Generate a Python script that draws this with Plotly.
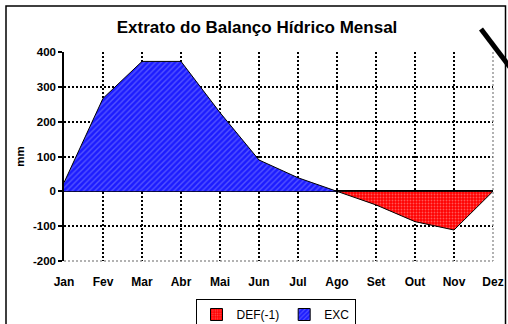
import plotly.graph_objects as go

# Monthly water balance extract (mm)
months = ["Jan", "Fev", "Mar", "Abr", "Mai", "Jun", "Jul", "Ago", "Set", "Out", "Nov", "Dez"]
exc = [25, 267, 373, 373, 226, 90, 39, 0, 0, 0, 0, 0]          # EXC (surplus)
deficit = [0, 0, 0, 0, 0, 0, 0, 0, -39, -87, -111, 0]           # DEF(-1) (deficit, negated)
y_ticks = [-200, -100, 0, 100, 200, 300, 400]
y_tick_text = ["-200", "-100", "0", "100", "200", "300", "400"]

FONT = "Liberation Sans, Arial, sans-serif"

blue_pattern = dict(shape="/", bgcolor="#1c1cff", fgcolor="#8c8cff", size=4, solidity=0.35)
red_pattern = dict(shape=".", bgcolor="#ff0000", fgcolor="#ffb0b0", size=3, solidity=0.3)

fig = go.Figure()

# filled areas
fig.add_trace(go.Scatter(
    x=months, y=deficit, name="DEF(-1)", mode="lines", showlegend=False,
    line=dict(color="black", width=1),
    fill="tozeroy", fillpattern=red_pattern, fillcolor="#ff0000",
))
fig.add_trace(go.Scatter(
    x=months, y=exc, name="EXC", mode="lines", showlegend=False,
    line=dict(color="black", width=1),
    fill="tozeroy", fillpattern=blue_pattern, fillcolor="#1c1cff",
))

# legend entries with square patterned swatches
for name, pat in (("DEF(-1)", red_pattern), ("EXC", blue_pattern)):
    fig.add_trace(go.Bar(
        x=[None], y=[None], name=name,
        marker=dict(color=pat["bgcolor"], pattern=pat, line=dict(color="black", width=1)),
    ))

L, R, T, B = 64, 15, 52, 63
W, H = 508 - L - R, 324 - T - B


def px_x(v):
    return (v - L) / W


def px_y(v):
    return (324 - B - v) / H


GRID = dict(width=1.5, dash="2px,2px")

fig.update_layout(
    width=508, height=324,
    margin=dict(l=L, r=R, t=T, b=B, autoexpand=False),
    paper_bgcolor="white", plot_bgcolor="white",
    font=dict(family=FONT, color="black"),
    title=dict(
        text="Extrato do Balanço Hídrico Mensal",
        font=dict(size=17, weight="bold", family=FONT),
        x=0.506, xanchor="center", y=0.917, yanchor="middle",
    ),
    showlegend=True,
    legend=dict(
        orientation="h", xref="container", yref="container",
        x=275.5 / 508, xanchor="center", y=1 - 299 / 324, yanchor="top",
        bordercolor="black", borderwidth=1, bgcolor="white",
        font=dict(size=12, family=FONT), itemwidth=30,
    ),
)

fig.update_xaxes(
    type="category", range=[0, 11], automargin=False,
    showgrid=True, gridcolor="black", gridwidth=GRID["width"], griddash=GRID["dash"],
    showline=False, ticks="", ticklabelstandoff=12,
    tickfont=dict(size=12, weight="bold", family=FONT),
)
fig.update_yaxes(
    range=[-200, 400], tickvals=y_ticks, ticktext=y_tick_text, automargin=False,
    showgrid=True, gridcolor="black", gridwidth=GRID["width"], griddash=GRID["dash"],
    zeroline=True, zerolinecolor="black", zerolinewidth=1.5,
    showline=True, linecolor="black", linewidth=1.5,
    ticks="outside", ticklen=4, tickwidth=1.5, tickcolor="black",
    tickfont=dict(size=11.5, weight="bold", family=FONT),
    title=dict(text="mm", standoff=6, font=dict(size=11.5, weight="bold", family=FONT)),
)

# grey dotted edges of the plotting area (bottom and right)
fig.add_shape(type="line", xref="x domain", yref="y domain", x0=0, x1=1, y0=0, y1=0,
              line=dict(color="#999999", **GRID), layer="above")
fig.add_shape(type="line", xref="x domain", yref="y domain", x0=1, x1=1, y0=1, y1=0,
              line=dict(color="#999999", **GRID), layer="above")

# chart frame and corner stroke
fig.add_shape(type="rect", xref="paper", yref="paper",
              x0=px_x(6), x1=px_x(505.5), y0=px_y(340), y1=px_y(6),
              line=dict(color="black", width=1.5), layer="below")
fig.add_shape(type="line", xref="paper", yref="paper",
              x0=px_x(481), y0=px_y(29), x1=px_x(512), y1=px_y(70),
              line=dict(color="black", width=5), layer="above")

# keep the page free of scrollbars so the full 508 px width is shown
fig.write_html(
    "out.html",
    post_script="document.documentElement.style.overflow='hidden';"
                "document.body.style.overflow='hidden';",
)
